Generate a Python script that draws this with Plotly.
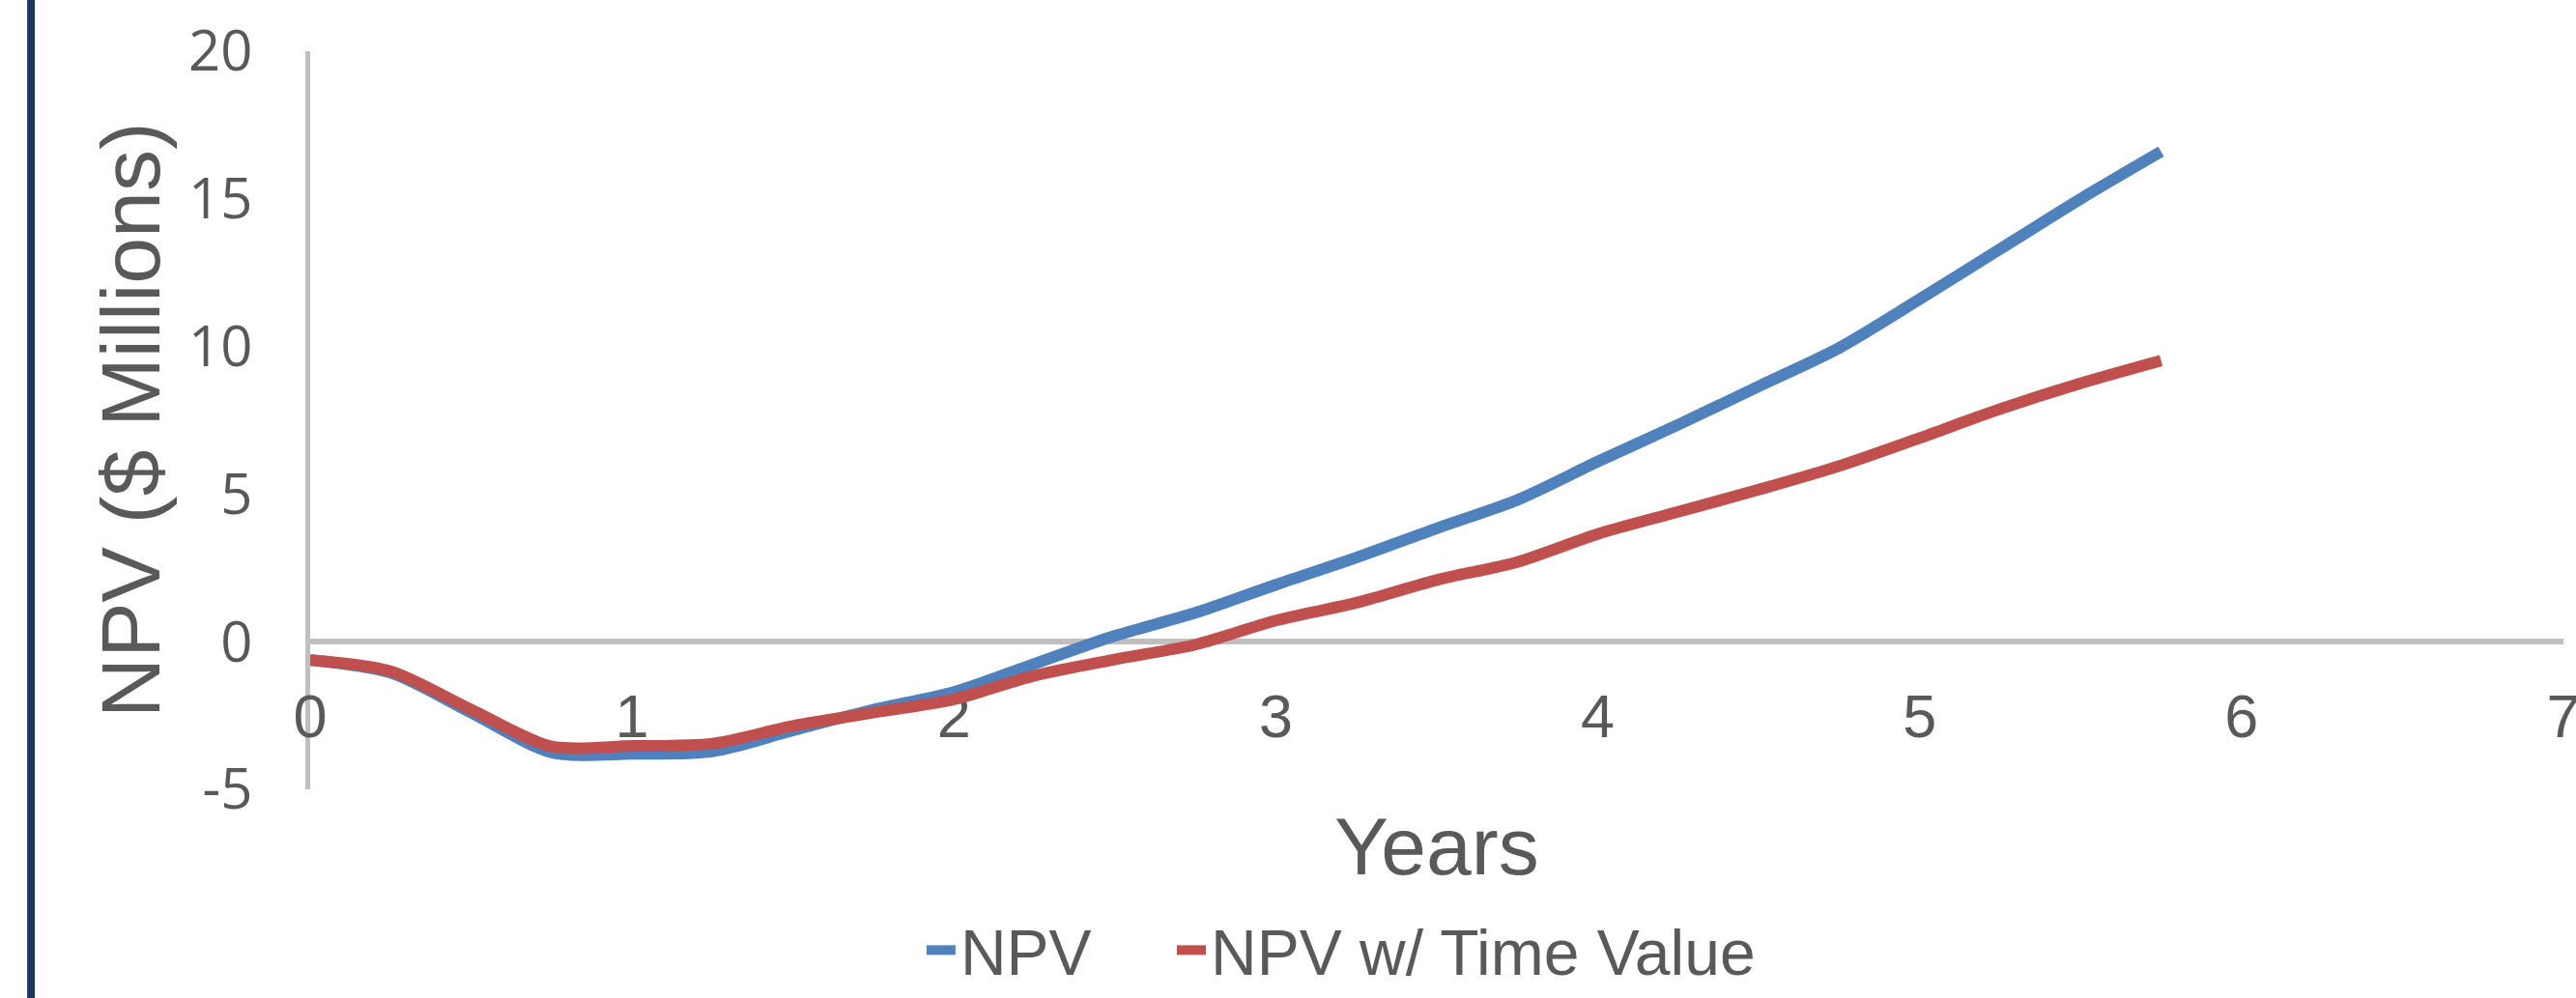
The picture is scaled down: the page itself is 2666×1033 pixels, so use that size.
import plotly.graph_objects as go

# Project timeline (years) and cumulative NPV in $ millions
years = [0, 0.25, 0.5, 0.75, 1.0, 1.25, 1.5, 1.75, 2.0, 2.25, 2.5, 2.75,
         3.0, 3.25, 3.5, 3.75, 4.0, 4.25, 4.5, 4.75, 5.0, 5.25, 5.5, 5.75]
npv = [-0.62, -1.05, -2.4, -3.75, -3.8, -3.72, -3.0, -2.3, -1.7, -0.75, 0.2, 0.98,
       1.93, 2.85, 3.84, 4.8, 6.1, 7.35, 8.65, 9.95, 11.6, 13.3, 15.0, 16.6]
npv_time_value = [-0.62, -1.0, -2.3, -3.55, -3.53, -3.45, -2.85, -2.4, -1.95, -1.15, -0.6, -0.1,
                  0.72, 1.32, 2.09, 2.7, 3.65, 4.4, 5.15, 5.95, 6.9, 7.88, 8.75, 9.52]

x_ticks = [0, 1, 2, 3, 4, 5, 6, 7]
y_ticks = [-5, 0, 5, 10, 15, 20]

series_names = ["NPV", "NPV w/ Time Value"]
series_colors = ["#4f81bd", "#c0504d"]
legend_ids = ["legend", "legend2"]

TEXT = "#595959"
AXIS = "#bfbfbf"
ARIAL = "Liberation Sans, Arial, sans-serif"

fig = go.Figure()
for name, vals, color, lg in zip(series_names, [npv, npv_time_value], series_colors, legend_ids):
    fig.add_trace(go.Scatter(
        x=years, y=vals, name=name, mode="lines", legend=lg,
        line=dict(color=color, width=12, shape="spline", smoothing=0.8),
    ))

legend_style = dict(
    orientation="h", xanchor="left", y=-0.2827, yanchor="bottom",
    font=dict(family=ARIAL, size=66, color=TEXT),
    bgcolor="rgba(0,0,0,0)", itemwidth=30,
)

fig.update_layout(
    width=2666, height=1033,
    margin=dict(l=321, r=13, t=53, b=216, autoexpand=False),
    paper_bgcolor="white", plot_bgcolor="white",
    showlegend=True,
    legend=dict(x=0.2714, **legend_style),
    legend2=dict(x=0.3825, **legend_style),
    xaxis=dict(
        range=[0, 7], tickvals=x_ticks, ticktext=[str(v) for v in x_ticks],
        showgrid=False, zeroline=False,
        showline=True, linecolor=AXIS, linewidth=6, layer="below traces",
        anchor="free", position=0.2,
        ticks="", ticklabelstandoff=20, ticklabeloverflow="allow",
        tickfont=dict(family=ARIAL, size=63, color=TEXT),
    ),
    yaxis=dict(
        range=[-5, 20], tickvals=y_ticks, ticktext=[str(v) for v in y_ticks],
        showgrid=False, zeroline=False,
        showline=True, linecolor=AXIS, linewidth=5, layer="below traces",
        ticks="", ticklabelstandoff=43,
        tickfont=dict(family="Open Sans, sans-serif", size=58, color=TEXT),
    ),
    annotations=[
        dict(text="NPV ($ Millions)", textangle=-90, xref="paper", yref="paper",
             x=-0.0798, y=0.5, xanchor="center", yanchor="middle", showarrow=False,
             font=dict(family=ARIAL, size=86, color=TEXT)),
        dict(text="Years", xref="paper", yref="paper",
             x=0.5, y=-0.077, xanchor="center", yanchor="middle", showarrow=False,
             font=dict(family=ARIAL, size=84, color=TEXT)),
    ],
    shapes=[
        dict(type="rect", xref="paper", yref="paper",
             x0=-0.1256, x1=-0.1222, y0=-0.3, y1=1.1,
             fillcolor="#1b375f", line=dict(width=0), layer="above"),
    ],
)

fig.write_html("out.html")
